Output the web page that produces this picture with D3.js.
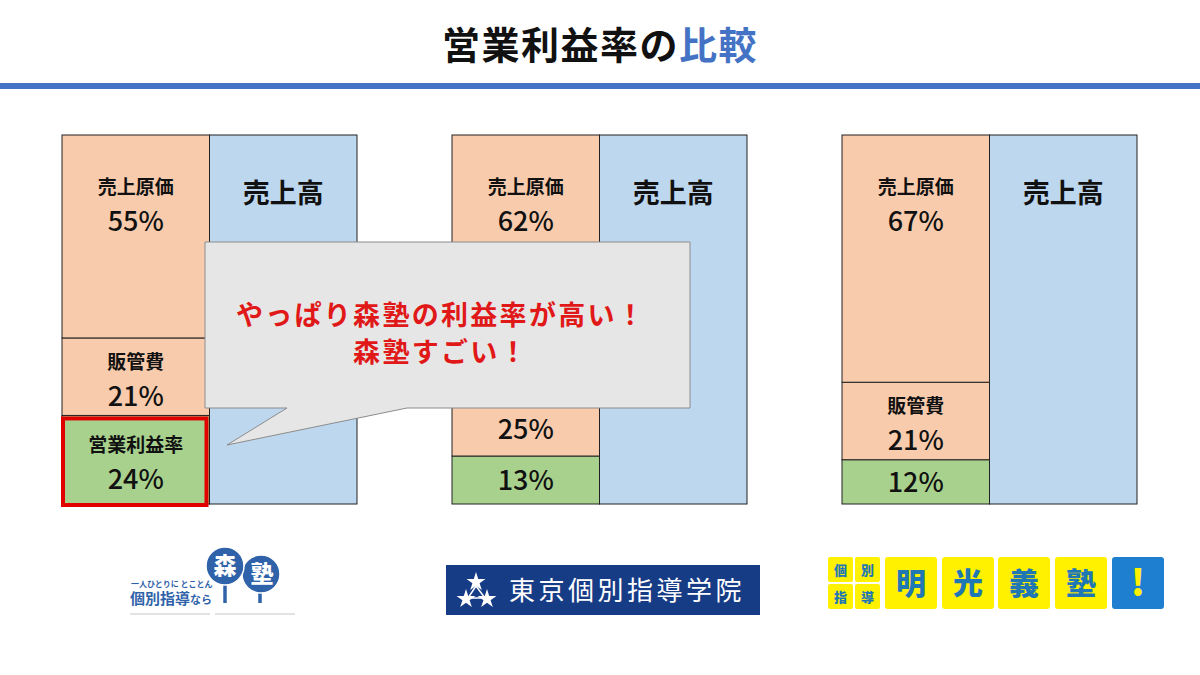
<!DOCTYPE html>
<html lang="ja">
<head>
<meta charset="utf-8">
<script src="https://cdn.jsdelivr.net/npm/d3@7"></script>
<style>
  html, body { margin: 0; padding: 0; background: #fff; }
  svg { display: block; font-family: "Noto Sans CJK JP", "Noto Sans", sans-serif; }
</style>
</head>
<body>
<div id="chart"></div>
<script>
// ---- data ----
const schools = ["森塾", "東京個別指導学院", "明光義塾"];
const segmentNames = ["売上原価", "販管費", "営業利益率"];
const costOfSales = [55, 62, 67];
const sgaExpense = [21, 25, 21];
const operatingMargin = [24, 13, 12];
const salesLabel = "売上高";
const titleMain = "営業利益率の";
const titleAccent = "比較";
const calloutLines = ["やっぱり森塾の利益率が高い！", "森塾すごい！"];

const W = 1200, H = 675;
const svg = d3.select("#chart").append("svg").attr("width", W).attr("height", H);

// ---- title ----
const title = svg.append("text").attr("x", 600).attr("y", 59).attr("text-anchor", "middle")
  .attr("font-size", 38).attr("font-weight", 700).attr("letter-spacing", 1.5);
title.append("tspan").attr("fill", "#111").text(titleMain);
title.append("tspan").attr("fill", "#4472C4").text(titleAccent);
svg.append("rect").attr("x", 0).attr("y", 83).attr("width", W).attr("height", 6).attr("fill", "#4472C4");

// ---- scales ----
const x = d3.scaleBand().domain(schools).range([62, 1137]).paddingInner(95 / 390).paddingOuter(0);
const col = d3.scaleBand().domain(["cost", "sales"]).range([0, x.bandwidth()]);
const y = d3.scaleLinear().domain([0, 100]).range([504, 135]);

const rows = schools.map((s, i) => ({
  school: s, profit: operatingMargin[i], sga: sgaExpense[i], cost: costOfSales[i]
}));
const stack = d3.stack().keys(["profit", "sga", "cost"]);
const series = stack(rows);
const fills = { profit: "#A9D18E", sga: "#F8CBAD", cost: "#F8CBAD" };

const panels = svg.selectAll("g.panel").data(rows).join("g")
  .attr("class", "panel").attr("transform", d => `translate(${x(d.school)},0)`);

// sales column
panels.append("rect").attr("x", col("sales")).attr("y", y(100))
  .attr("width", col.bandwidth()).attr("height", y(0) - y(100))
  .attr("fill", "#BDD7EE").attr("stroke", "#222").attr("stroke-width", 1);
panels.append("text").attr("x", col("sales") + col.bandwidth() / 2).attr("y", y(100) + 68)
  .attr("text-anchor", "middle").attr("font-size", 27).attr("font-weight", 700)
  .attr("fill", "#111").text(salesLabel);

// stacked segments
series.forEach(s => {
  panels.append("rect")
    .attr("x", col("cost"))
    .attr("y", (d, i) => y(s[i][1]))
    .attr("width", col.bandwidth())
    .attr("height", (d, i) => y(s[i][0]) - y(s[i][1]))
    .attr("fill", fills[s.key]).attr("stroke", "#222").attr("stroke-width", 1);
});

const cx = col("cost") + col.bandwidth() / 2;
const labelFont = 19, pctFont = 27;
// cost labels (top)
panels.append("text").attr("x", cx).attr("y", y(100) + 59).attr("text-anchor", "middle")
  .attr("font-size", labelFont).attr("font-weight", 700).attr("fill", "#111").text(segmentNames[0]);
panels.append("text").attr("x", cx).attr("y", y(100) + 96).attr("text-anchor", "middle")
  .attr("font-size", pctFont).attr("font-weight", 500).attr("fill", "#111").text(d => d.cost + "%");
// sga labels (centered)
panels.append("text").attr("x", cx).attr("y", d => (y(d.profit) + y(d.profit + d.sga)) / 2 - 8)
  .attr("text-anchor", "middle").attr("font-size", labelFont).attr("font-weight", 700)
  .attr("fill", "#111").text(segmentNames[1]);
panels.append("text").attr("x", cx).attr("y", d => (y(d.profit) + y(d.profit + d.sga)) / 2 + 29)
  .attr("text-anchor", "middle").attr("font-size", pctFont).attr("font-weight", 500)
  .attr("fill", "#111").text(d => d.sga + "%");
// profit labels
panels.each(function (d, i) {
  const g = d3.select(this);
  const mid = (y(0) + y(d.profit)) / 2;
  if (i === 0) {
    g.append("text").attr("x", cx).attr("y", mid - 8).attr("text-anchor", "middle")
      .attr("font-size", labelFont).attr("font-weight", 700).attr("fill", "#111").text(segmentNames[2]);
    g.append("text").attr("x", cx).attr("y", mid + 29).attr("text-anchor", "middle")
      .attr("font-size", pctFont).attr("font-weight", 500).attr("fill", "#111").text(d.profit + "%");
    // highlight box
    g.append("rect").attr("x", col("cost") + 1).attr("y", y(d.profit) + 3)
      .attr("width", col.bandwidth() - 4).attr("height", y(0) - y(d.profit) - 2)
      .attr("fill", "none").attr("stroke", "#E00000").attr("stroke-width", 4);
  } else {
    g.append("text").attr("x", cx).attr("y", mid + 10).attr("text-anchor", "middle")
      .attr("font-size", pctFont).attr("font-weight", 500).attr("fill", "#111").text(d.profit + "%");
  }
});

// ---- callout ----
const callout = svg.append("g");
const cL = 205, cR = 690, cT = 242, cB = 408;
const calloutPath = d3.path();
calloutPath.moveTo(cL, cT);
calloutPath.lineTo(cR, cT);
calloutPath.lineTo(cR, cB);
calloutPath.lineTo(407, cB);
calloutPath.lineTo(227, 445);
calloutPath.lineTo(287, cB);
calloutPath.lineTo(cL, cB);
calloutPath.closePath();
callout.append("path").attr("d", calloutPath.toString())
  .attr("fill", "#E7E6E6").attr("stroke", "#8C8C8C").attr("stroke-width", 1);
callout.selectAll("text").data(calloutLines).join("text")
  .attr("x", 441).attr("y", (d, i) => 325 + i * 37).attr("text-anchor", "middle")
  .attr("font-size", 27).attr("font-weight", 700).attr("letter-spacing", 2.3)
  .attr("fill", "#E01818").text(d => d);

// ---- logos ----
// 1. 森塾
const l1 = svg.append("g");
const moriBlue = "#2F62A8";
l1.append("line").attr("x1", 225).attr("x2", 225).attr("y1", 570).attr("y2", 603).attr("stroke", moriBlue).attr("stroke-width", 3.5);
l1.append("line").attr("x1", 260).attr("x2", 260).attr("y1", 575).attr("y2", 603).attr("stroke", moriBlue).attr("stroke-width", 3.5);
l1.append("circle").attr("cx", 261).attr("cy", 574).attr("r", 19).attr("fill", moriBlue).attr("stroke", "#fff").attr("stroke-width", 1.5);
l1.append("circle").attr("cx", 225).attr("cy", 566).attr("r", 19).attr("fill", moriBlue).attr("stroke", "#fff").attr("stroke-width", 1.5);
l1.append("text").attr("x", 225).attr("y", 574).attr("text-anchor", "middle").attr("font-size", 23).attr("font-weight", 900).attr("fill", "#fff").text("森");
l1.append("text").attr("x", 262).attr("y", 582).attr("text-anchor", "middle").attr("font-size", 23).attr("font-weight", 900).attr("fill", "#fff").text("塾");
l1.append("text").attr("x", 131).attr("y", 587).attr("font-size", 8).attr("font-weight", 700).attr("fill", moriBlue).text("一人ひとりに とことん");
const l1t = l1.append("text").attr("x", 130).attr("y", 604).attr("fill", moriBlue).attr("font-weight", 700);
l1t.append("tspan").attr("font-size", 15).text("個別指導");
l1t.append("tspan").attr("font-size", 11).text("なら");
l1.append("rect").attr("x", 130).attr("y", 613).attr("width", 80).attr("height", 2).attr("fill", "#E3E3E3");
l1.append("rect").attr("x", 215).attr("y", 613).attr("width", 80).attr("height", 2).attr("fill", "#E3E3E3");

// 2. 東京個別指導学院
const l2 = svg.append("g");
l2.append("rect").attr("x", 446).attr("y", 565).attr("width", 314).attr("height", 50).attr("fill", "#173C86");
const star = d3.symbol().type(d3.symbolStar);
[[476, 582, 110], [466, 599, 110], [487, 599, 110]].forEach(p => {
  l2.append("path").attr("d", star.size(p[2])()).attr("transform", `translate(${p[0]},${p[1]})`).attr("fill", "#fff");
});
l2.append("path").attr("d", "M476,586 L468,598 L485,598 Z").attr("fill", "none").attr("stroke", "#fff").attr("stroke-width", 1.5);
l2.append("text").attr("x", 627).attr("y", 600).attr("text-anchor", "middle").attr("font-size", 26)
  .attr("font-weight", 400).attr("letter-spacing", 3.5).attr("fill", "#fff").text("東京個別指導学院");

// 3. 明光義塾
const l3 = svg.append("g");
const meikoYellow = "#FFF100", meikoBlue = "#1F78B4";
const small = [["個", 828, 557], ["別", 855, 557], ["指", 828, 584], ["導", 855, 584]];
small.forEach(s => {
  l3.append("rect").attr("x", s[1]).attr("y", s[2]).attr("width", 25).attr("height", 25).attr("rx", 2).attr("fill", meikoYellow);
  l3.append("text").attr("x", s[1] + 12.5).attr("y", s[2] + 18).attr("text-anchor", "middle").attr("font-size", 13)
    .attr("font-weight", 900).attr("fill", meikoBlue).text(s[0]);
});
const big = [["明", 885], ["光", 942], ["義", 998], ["塾", 1055]];
big.forEach(b => {
  l3.append("rect").attr("x", b[1]).attr("y", 557).attr("width", 52).attr("height", 52).attr("rx", 3).attr("fill", meikoYellow);
  l3.append("text").attr("x", b[1] + 26).attr("y", 594).attr("text-anchor", "middle").attr("font-size", 30)
    .attr("font-weight", 900).attr("fill", meikoBlue).text(b[0]);
});
l3.append("rect").attr("x", 1112).attr("y", 557).attr("width", 52).attr("height", 52).attr("rx", 3).attr("fill", "#1E7FD0");
l3.append("text").attr("x", 1138).attr("y", 596).attr("text-anchor", "middle").attr("font-size", 36)
  .attr("font-weight", 900).attr("fill", meikoYellow).text("!");
</script>
</body>
</html>
